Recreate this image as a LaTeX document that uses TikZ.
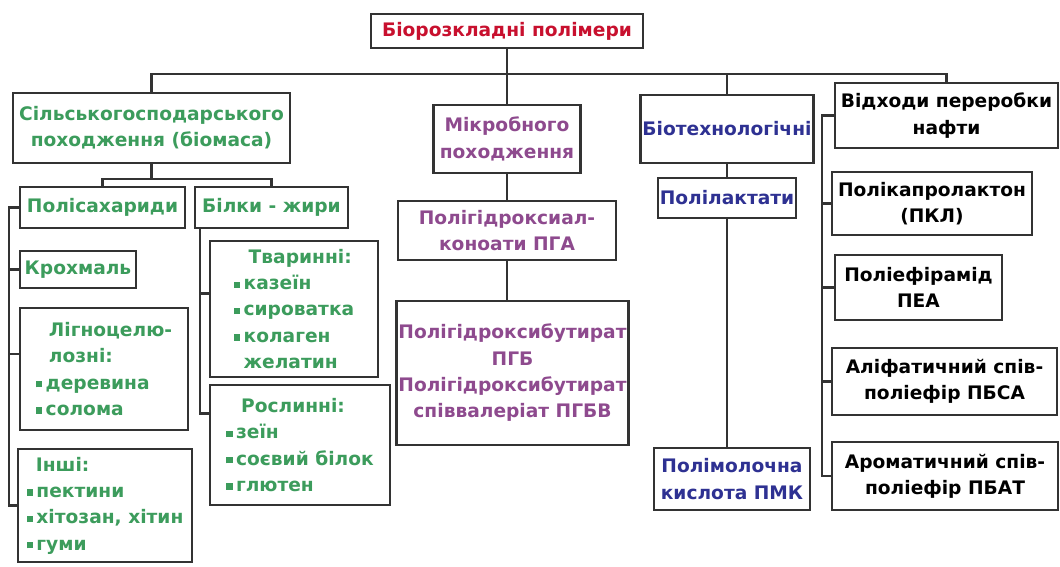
\documentclass[tikz,border=0pt]{standalone}
\usepackage{fontspec}
\setmainfont{DejaVu Sans}
\usepackage{tikz}
\definecolor{redtxt}{HTML}{C8102E}
\definecolor{greentxt}{HTML}{3C9C5C}
\definecolor{purpletxt}{HTML}{8E4A8E}
\definecolor{bluetxt}{HTML}{2E3192}
\definecolor{edgegray}{HTML}{333333}
\newcommand{\bul}{\raisebox{1pt}{\rule{3.6pt}{3.6pt}}\hspace{2pt}}

\begin{document}
\begin{tikzpicture}[x=0.02cm,y=-0.02cm,
	box/.style={draw=edgegray,line width=1.5pt,fill=white,align=center,inner sep=1pt,font=\bfseries\fontsize{10.6}{15}\selectfont},
	link/.style={draw=edgegray,line width=1.5pt}]
			\useasboundingbox (0,0) rectangle (1060,566);
			\fill[white] (0,0) rectangle (1060,566);
			
			% top level
			\node[box,text=redtxt,minimum width=5.44cm,minimum height=0.68cm] (root) at (507,31) {Біорозкладні полімери};
			\node[box,text=greentxt,minimum width=5.54cm,minimum height=1.4cm] (agri) at (151.5,128) {Сільськогосподарського\\походження (біомаса)};
			\node[box,text=purpletxt,minimum width=2.94cm,minimum height=1.36cm] (micro) at (507,139) {Мікробного\\походження};
			\node[box,text=bluetxt,minimum width=3.36cm,minimum height=1.36cm] (bio) at (727,129) {Біотехнологічні};
			\node[box,minimum width=4.46cm,minimum height=1.3cm] (oil) at (946.5,115.5) {Відходи переробки\\нафти};
			
			% agricultural branch
			\node[box,text=greentxt,minimum width=3.3cm,minimum height=0.82cm] (poly) at (102.5,207.5) {Полісахариди};
			\node[box,text=greentxt,minimum width=3.06cm,minimum height=0.82cm] (prot) at (271.5,207.5) {Білки - жири};
			\node[box,text=greentxt,minimum width=2.32cm,minimum height=0.74cm] (starch) at (78,269.5) {Крохмаль};
			\node[box,text=greentxt,align=left,minimum width=3.36cm,minimum height=2.44cm] (ligno) at (104,369) {\hspace*{0.7em}Лігноцелю-\\\hspace*{0.7em}лозні:\\\bul деревина\\\bul солома};
			\node[box,text=greentxt,align=left,minimum width=3.48cm,minimum height=2.26cm] (other) at (105,505.5) {\hspace*{0.5em}Інші:\\\bul пектини\\\bul хітозан, хітин\\\bul гуми};
			\node[box,text=greentxt,align=left,minimum width=3.36cm,minimum height=2.72cm] (animal) at (294,309) {\hspace*{0.8em}Тваринні:\\\bul казеїн\\\bul сироватка\\\bul колаген\\\hspace*{5.6pt}желатин};
			\node[box,text=greentxt,align=left,minimum width=3.6cm,minimum height=2.4cm] (plant) at (300,445) {\hspace*{0.8em}Рослинні:\\\bul зеїн\\\bul соєвий білок\\\bul глютен};
			
			% microbial branch
			\node[box,text=purpletxt,minimum width=4.36cm,minimum height=1.18cm] (pha) at (507,230.5) {Полігідроксиал-\\коноати ПГА};
			\node[box,text=purpletxt,minimum width=4.62cm,minimum height=2.88cm] (phb) at (512.5,373) {Полігідроксибутират\\ПГБ\\Полігідроксибутират\\співвалеріат ПГБВ};
			
			% biotechnological branch
			\node[box,text=bluetxt,minimum width=2.74cm,minimum height=0.8cm] (pla) at (727,198) {Полілактати};
			\node[box,text=bluetxt,minimum width=3.12cm,minimum height=1.24cm] (pmk) at (732,479) {Полімолочна\\кислота ПМК};
			
			% oil branch
			\node[box,minimum width=4cm,minimum height=1.26cm] (pcl) at (932,203.5) {Полікапролактон\\(ПКЛ)};
			\node[box,minimum width=3.34cm,minimum height=1.3cm] (pea) at (918.5,287.5) {Поліефірамід\\ПЕА};
			\node[box,minimum width=4.5cm,minimum height=1.34cm] (pbsa) at (944.5,381.5) {Аліфатичний спів-\\поліефір ПБСА};
			\node[box,minimum width=4.52cm,minimum height=1.36cm] (pbat) at (945,476) {Ароматичний спів-\\поліефір ПБАТ};
			
			% connectors
			\coordinate (bus) at (0,74);
			\coordinate (fork) at (0,179);
			\coordinate (spineL) at (9,0);
			\coordinate (spineB) at (200,0);
			\coordinate (spineR) at (822,0);
			\draw[link] (agri.north) |- (oil.north |- bus) -- (oil.north);
			\draw[link] (root.south) -- (root.south |- micro.north);
			\draw[link] (bio.north) -- (bio.north |- bus);
			
			\draw[link] (agri.south) -- (agri.south |- fork);
			\draw[link] (poly.north) |- (prot.north |- fork) -- (prot.north);
			\draw[link] (poly.west) -| (spineL |- other.west) -- (other.west);
			\draw[link] (starch.west) -- (spineL |- starch.west);
			\draw[link] ([yshift=8.5pt]ligno.west) -- +(-11,0);
			\draw[link] (spineB |- prot.south) |- ([yshift=18pt]plant.west);
			\draw[link] ([yshift=9pt]animal.west) -- +(-10,0);
			
			\draw[link] (micro.south) -- (micro.south |- pha.north);
			\draw[link] (pha.south) -- (pha.south |- phb.north);
			
			\draw[link] (bio.south) -- (bio.south |- pla.north);
			\draw[link] (pla.south) -- (pla.south |- pmk.north);
			
			\draw[link] (oil.west) -| (spineR |- pbat.west) -- (pbat.west);
			\draw[link] (pcl.west) -- (spineR |- pcl.west);
			\draw[link] (pea.west) -- (spineR |- pea.west);
			\draw[link] (pbsa.west) -- (spineR |- pbsa.west);
\end{tikzpicture}
\end{document}
